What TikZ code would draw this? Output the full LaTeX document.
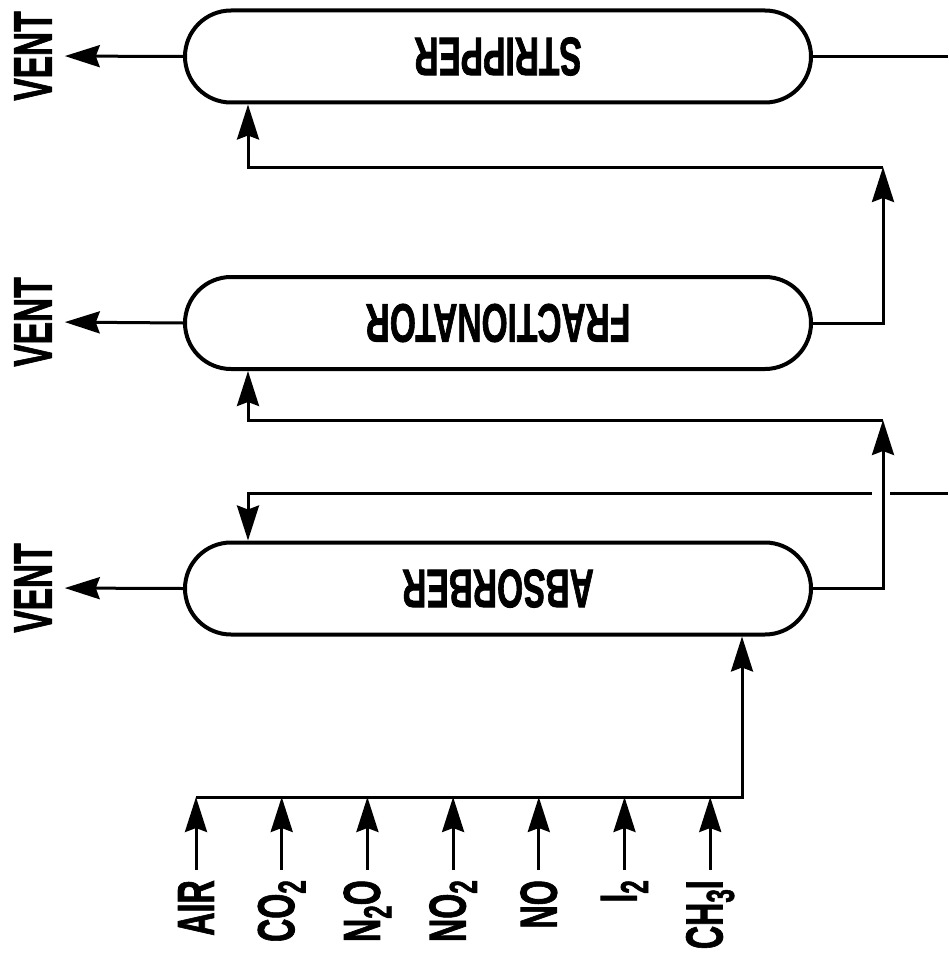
\documentclass[tikz,border=0pt]{standalone}
\usepackage{fontspec}
\setmainfont{Liberation Sans}[BoldFeatures={FakeBold=1.8}]
\usetikzlibrary{arrows.meta,calc}
\newcommand\mybigfont{\fontsize{54}{54}\selectfont\bfseries}
\newcommand\mygasfont{\fontsize{52}{52}\selectfont\bfseries}
\newcommand\cond[1]{\scalebox{0.62}[1]{#1}}
\newcommand\mysub[1]{\raisebox{-0.22em}{\fontsize{39}{39}\selectfont\bfseries #1}}
\tikzset{
  vessel/.style={draw, line width=4pt, rounded corners=46pt, minimum width=626pt,
    minimum height=92pt, inner sep=0pt, font=\mybigfont},
  pipe/.style={line width=3pt},
  flow/.style={pipe, -{Stealth[length=35pt,width=22pt,inset=4pt]}},
  ventlbl/.style={inner sep=0pt, font=\mybigfont},
  gaslbl/.style={inner sep=0pt, anchor=north, font=\mygasfont},
}
\begin{document}
\begin{tikzpicture}[x=1pt,y=1pt]
\useasboundingbox (0,0) rectangle (948,-963);
% vessels
\node[vessel] (S) at (498,-56.5) {\rotatebox{180}{\cond{STRIPPER}}};
\node[vessel] (F) at (498,-323) {\rotatebox{180}{\cond{FRACTIONATOR}}};
\node[vessel] (A) at (498,-588.5) {\rotatebox{180}{\cond{ABSORBER}}};
% vents
\node[ventlbl] (vS) at (33,-56) {\rotatebox{90}{\cond{VENT}}};
\node[ventlbl] (vF) at (33,-322) {\rotatebox{90}{\cond{VENT}}};
\node[ventlbl] (vA) at (33,-588) {\rotatebox{90}{\cond{VENT}}};
\draw[flow, shorten >=13pt] (S.west) -- (vS.east);
\draw[flow, shorten >=13pt] (F.west) -- (vF.east);
\draw[flow, shorten >=13pt] (A.west) -- (vA.east);
% stripper outlet
\coordinate (outS) at (948,-56.5);
\draw[pipe] (S.east) -- (outS);
% fractionator to stripper
\coordinate (c1) at (883,-167);
\coordinate (c2) at (248,-167);
\draw[flow] (F.east) -| (c1);
\draw[flow] (c1) -- (c2) -- (c2 |- S.south);
% feed line to absorber top
\coordinate (fin) at (948,-493);
\coordinate (fc) at (248,-493);
\coordinate (c3) at (883,-420);
\coordinate (c4) at (248,-420);
\draw[flow] (fin) -- (fc) -- (fc |- A.north);
\draw[white, line width=7pt] ($(c3 |- fin)+(-11,0)$) -- ($(c3 |- fin)+(7,0)$);
% absorber to fractionator
\draw[flow] (A.east) -| (c3);
\draw[flow] (c3) -- (c4) -- (c4 |- F.south);
% gas labels
\node[gaslbl] (g1) at (196,-880) {\rotatebox{90}{\cond{AIR}}};
\node[gaslbl] (g2) at (281.7,-880) {\rotatebox{90}{\cond{CO\mysub{2}}}};
\node[gaslbl] (g3) at (367.4,-880) {\rotatebox{90}{\cond{N\mysub{2}O}}};
\node[gaslbl] (g4) at (453.1,-880) {\rotatebox{90}{\cond{NO\mysub{2}}}};
\node[gaslbl] (g5) at (538.8,-880) {\rotatebox{90}{\cond{NO}}};
\node[gaslbl] (g6) at (624.5,-880) {\rotatebox{90}{\cond{I\mysub{2}}}};
\node[gaslbl] (g7) at (710.2,-880) {\rotatebox{90}{\cond{CH\mysub{3}I}}};
% header
\coordinate (hdr) at (742,-797);
\draw[flow] (g1.north |- hdr) -- (hdr) -- (hdr |- A.south);
\foreach \g in {g1,g2,g3,g4,g5,g6,g7}
  \draw[flow, shorten <=10pt] (\g.north) -- (\g.north |- hdr);
\end{tikzpicture}
\end{document}
